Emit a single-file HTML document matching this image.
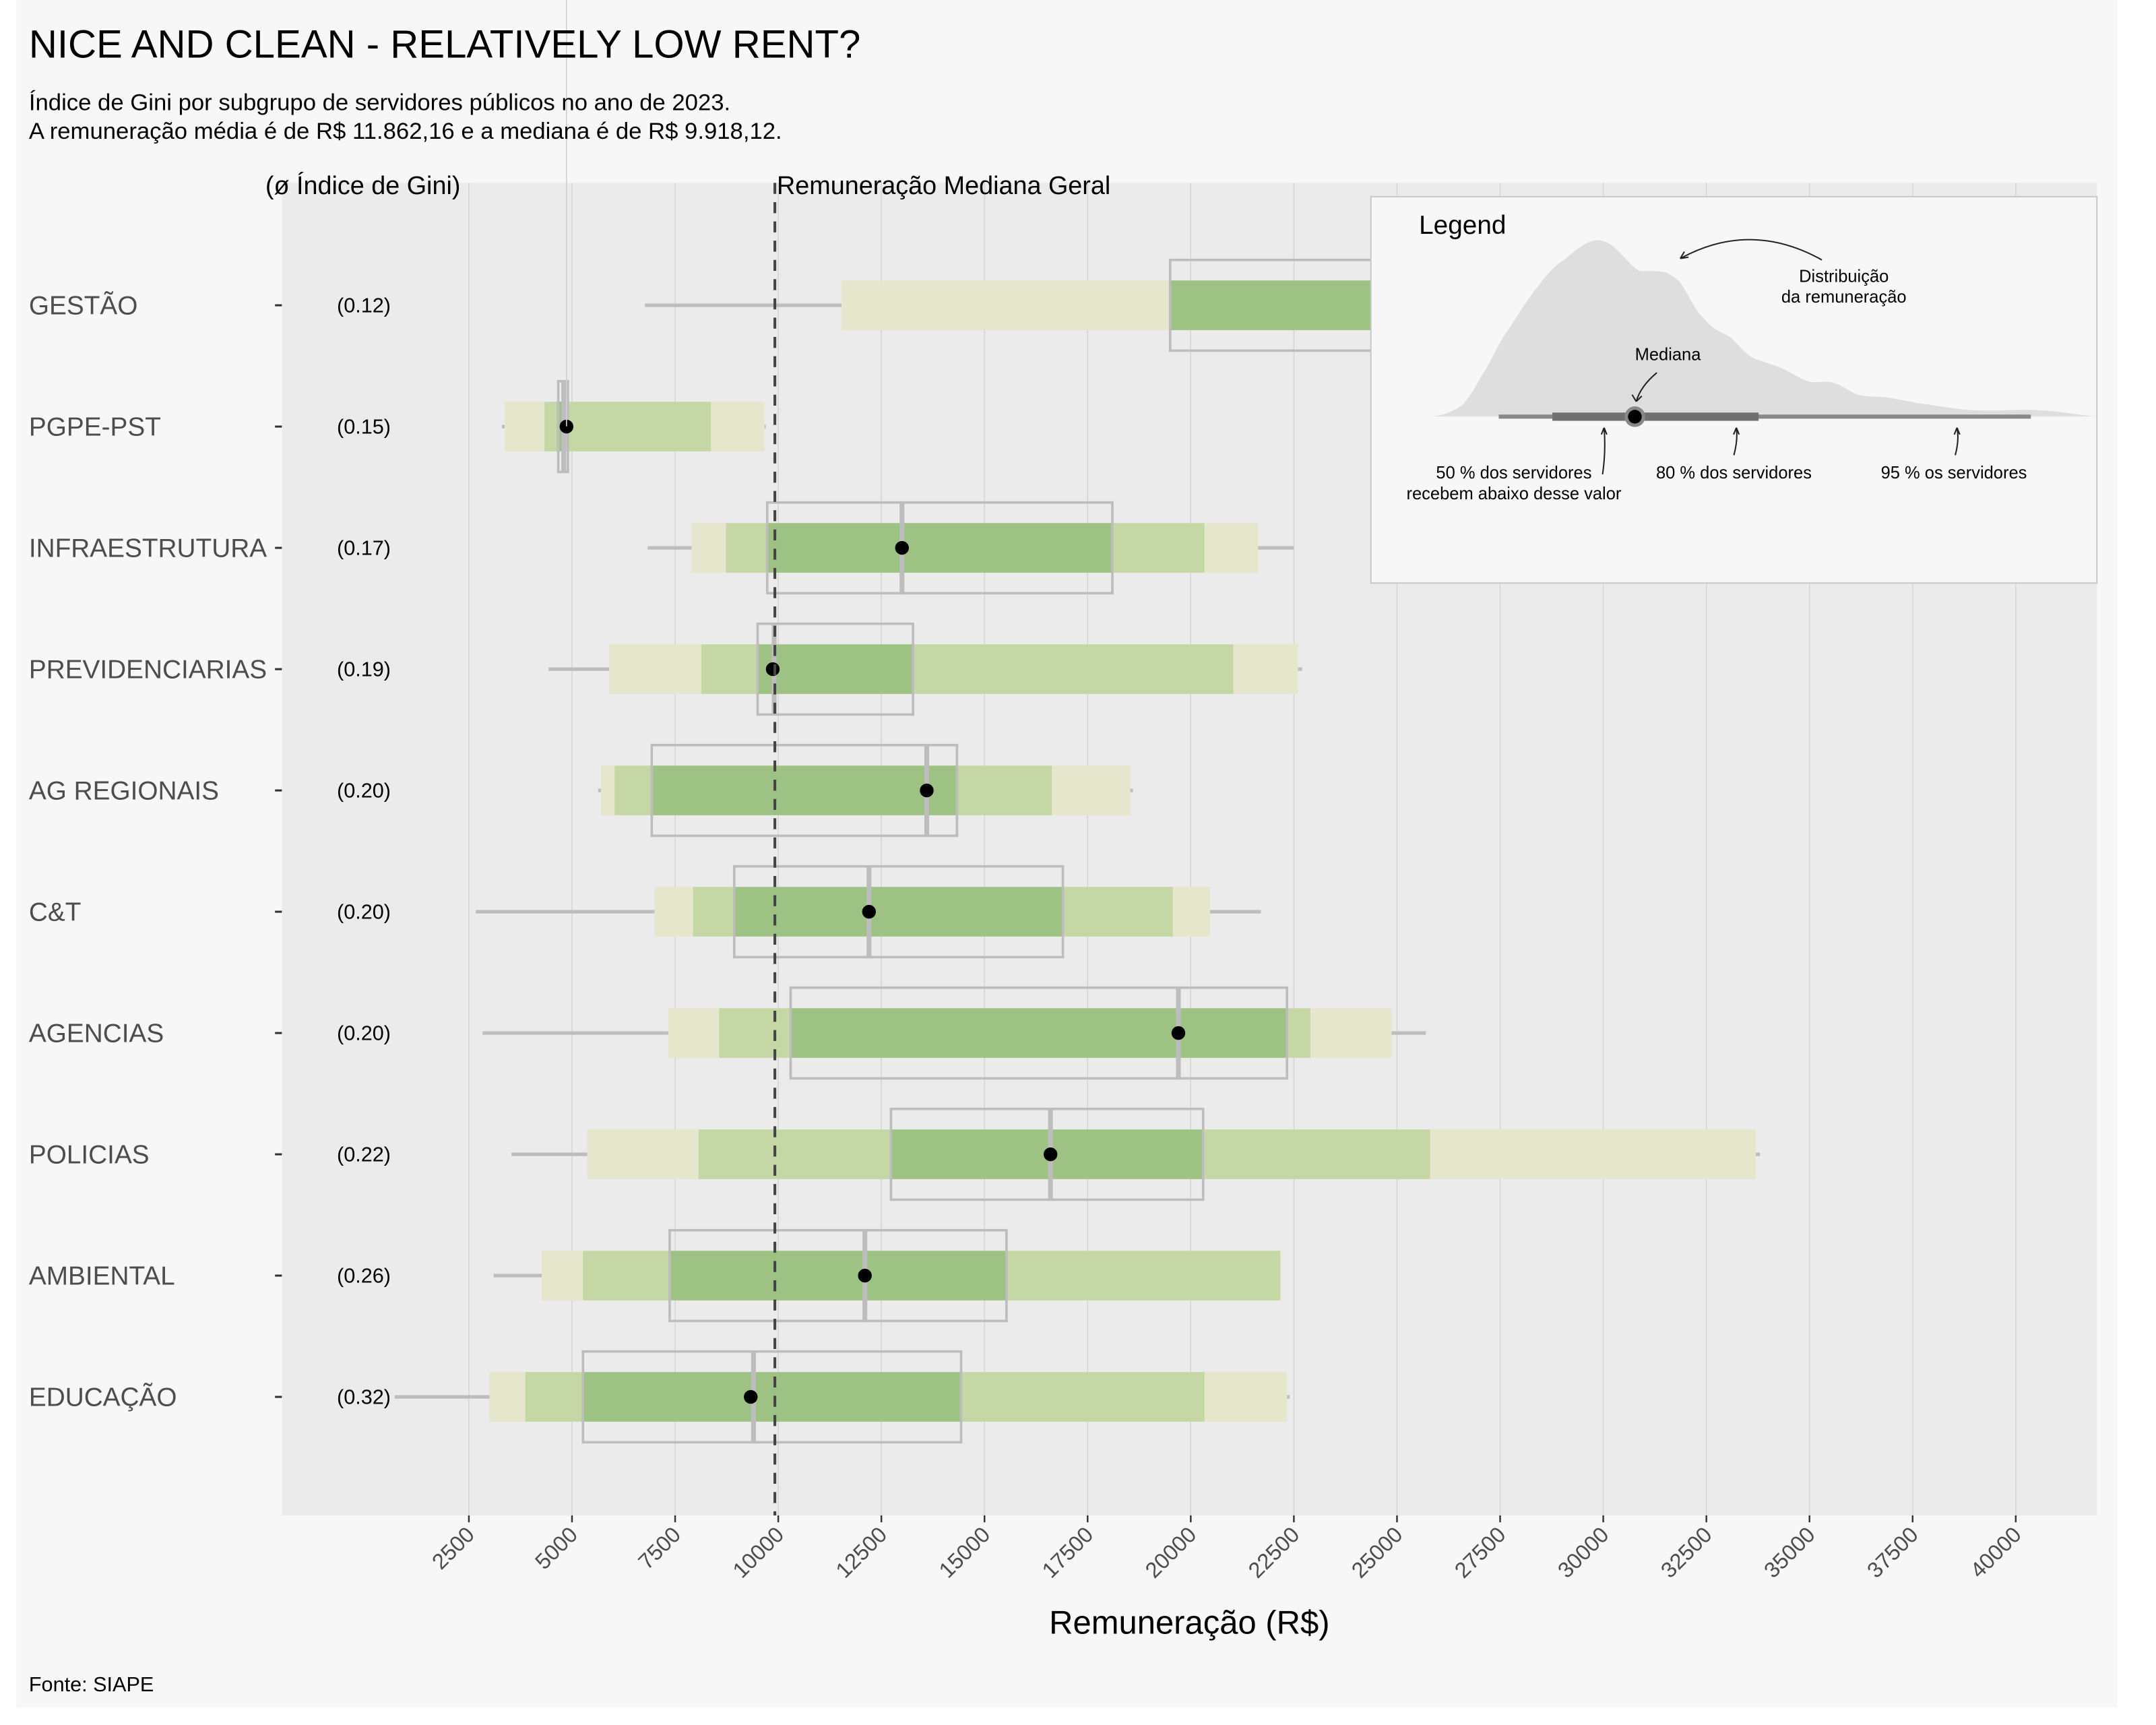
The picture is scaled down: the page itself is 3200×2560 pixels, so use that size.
<!DOCTYPE html>
<html><head><meta charset="utf-8">
<style>
html,body{margin:0;padding:0;background:#fff;}
svg{display:block;font-family:"Liberation Sans",sans-serif;}
</style></head>
<body>
<svg id="chart" width="3200" height="2560" viewBox="0 0 1568 1254.4" xmlns="http://www.w3.org/2000/svg">
<rect x="12" y="0" width="1528" height="1242" fill="#f7f7f7"/>
<rect x="205" y="133" width="1320" height="969" fill="#ebebeb"/>
<g id="grid"></g>
<g id="marks"></g>
<text x="21" y="42" font-size="28.5" fill="#000">NICE AND CLEAN - RELATIVELY LOW RENT?</text>
<text x="21" y="80" font-size="17" fill="#000">Índice de Gini por subgrupo de servidores públicos no ano de 2023.</text>
<text x="21" y="101" font-size="17" fill="#000">A remuneração média é de R$ 11.862,16 e a mediana é de R$ 9.918,12.</text>
<text x="193" y="141" font-size="18.5" fill="#000">(ø Índice de Gini)</text>
<text x="565" y="141" font-size="18.5" fill="#000">Remuneração Mediana Geral</text>
<text x="865" y="1188" font-size="24" text-anchor="middle" fill="#000">Remuneração (R$)</text>
<text x="21" y="1230" font-size="15" fill="#000">Fonte: SIAPE</text>
<g id="legend">
<rect x="997" y="143" width="528" height="281" fill="#f7f7f7" stroke="#c8c8c8" stroke-width="1"/>
<text x="1032" y="170" font-size="19" fill="#000">Legend</text>
<path fill="#dedede" d="M1041.1,302.9 C1052,302 1058,298 1063.4,294.7 C1072,285 1076,275 1080.6,268.5 C1088,255 1092,246 1097.8,238.5 C1106,226 1112,216 1118.4,208.5 C1126,198 1132,192 1139.1,187.8 C1148,180 1156,174 1163.1,174.7 C1172,176 1176,182 1180.3,185.9 C1186,192 1190,197 1194,197.2 C1202,197 1207,197 1211.2,198.1 C1216,200 1219,203 1221.5,204.7 C1228,214 1231,222 1235.3,227.2 C1241,234 1245,238 1249,240.3 C1254,243 1257,244 1259.4,246 C1266,253 1270,258 1276.5,261 C1285,264 1292,266 1297.2,268.5 C1305,272 1311,277 1317.8,277.8 C1325,278 1330,277 1335,278.8 C1343,282 1347,286 1352.1,287.2 C1360,289 1366,288 1372.8,289.1 C1385,291 1392,293 1400.3,293.8 C1415,296 1425,298 1438.1,298.4 C1460,299 1475,297 1489.6,298.8 C1505,300 1512,302 1525.7,302.9 Z"/>
<line x1="1090" y1="303" x2="1477" y2="303" stroke="#888" stroke-width="3"/>
<line x1="1129" y1="303" x2="1279" y2="303" stroke="#707070" stroke-width="6"/>
<circle cx="1189" cy="303" r="7.5" fill="#888"/>
<circle cx="1189" cy="303" r="5" fill="#000"/>
<text x="1341" y="205" font-size="12.5" text-anchor="middle">Distribuição</text>
<text x="1341" y="220" font-size="12.5" text-anchor="middle">da remuneração</text>
<text x="1213" y="262" font-size="12.5" text-anchor="middle">Mediana</text>
<text x="1101" y="348" font-size="12.5" text-anchor="middle">50 % dos servidores</text>
<text x="1101" y="363" font-size="12.5" text-anchor="middle">recebem abaixo desse valor</text>
<text x="1261" y="348" font-size="12.5" text-anchor="middle">80 % dos servidores</text>
<text x="1421" y="348" font-size="12.5" text-anchor="middle">95 % os servidores</text>
<g fill="none" stroke="#222" stroke-width="1">
<path d="M1325,189 Q1273,160 1222,188 M1222,188 l6,-1 M1222,188 l3,-5"/>
<path d="M1205,271 Q1193,281 1190,292 M1190,292 l-3,-5 M1190,292 l4,-4"/>
<path d="M1165.5,345 Q1168,328 1166.6,311 M1166.6,311 l-2,5 M1166.6,311 l2,5"/>
<path d="M1261,331 Q1264,320 1262.8,311 M1262.8,311 l-2,5 M1262.8,311 l2,5"/>
<path d="M1422,331 Q1425,320 1423.3,311 M1423.3,311 l-2,5 M1423.3,311 l2,5"/>
</g>
</g>
</svg>
<script>
const categories = ["GESTÃO","PGPE-PST","INFRAESTRUTURA","PREVIDENCIARIAS","AG REGIONAIS","C&T","AGENCIAS","POLICIAS","AMBIENTAL","EDUCAÇÃO"];
const gini = ["(0.12)","(0.15)","(0.17)","(0.19)","(0.20)","(0.20)","(0.20)","(0.22)","(0.26)","(0.32)"];
const whiskerLo = [6767,3300,6833,4433,5633,2667,2833,3533,3100,700];
const whiskerHi = [38000,9700,22500,22700,18600,21700,25700,33800,22200,22400];
const p95Lo = [11533,3367,7900,5900,5700,7000,7333,5367,4267,3000];
const p95Hi = [36000,9667,21633,22600,18533,20467,24867,33700,22200,22333];
const p80Lo = [19500,4333,8733,8133,6033,7933,8567,8067,5267,3867];
const p80Hi = [34000,8367,20333,21033,16633,19567,22900,25800,22167,20333];
const p50Lo = [19500,4633,9733,9500,6933,8933,10300,12733,7367,5267];
const p50Hi = [31000,4800,18100,13267,14333,16900,22333,20300,15533,14433];
const medianVal = [27000,4867,13000,9867,13600,12200,19700,16600,12100,9333];
const boxQ1 = [19500,4667,9733,9500,6933,8933,10300,12733,7367,5267];
const boxQ3 = [31000,4900,18100,13267,14333,16900,22333,20300,15533,14433];
const boxMed = [27000,4800,13000,9900,13600,12200,19700,16600,12100,9400];
const xTicks = [2500,5000,7500,10000,12500,15000,17500,20000,22500,25000,27500,30000,32500,35000,37500,40000];
const overallMedian = 9918.12;

const NS="http://www.w3.org/2000/svg";
const X = v => 341 + (v-2500)*0.03;
const Y = i => 222 + i*88.2;
function mk(tag, attrs, parent){const e=document.createElementNS(NS,tag);for(const k in attrs)e.setAttribute(k,attrs[k]);parent.appendChild(e);return e;}
const grid=document.getElementById('grid'), marks=document.getElementById('marks'), svg=document.getElementById('chart');

xTicks.forEach((t,i)=>{
  const g=mk('line',{x1:X(t),x2:X(t),y1:133,y2:1102,stroke:'#d4d4d4','stroke-width':0.7},grid);
  
  
  const tk=mk('line',{x1:X(t),x2:X(t),y1:1102,y2:1107,stroke:'#333','stroke-width':1.2},svg);
  
  
  const lb=mk('text',{x:X(t)+5,y:1117,'font-size':16,fill:'#4d4d4d','text-anchor':'end',transform:`rotate(-45 ${X(t)+5} 1117)`},svg);
  lb.textContent=String(t);
  
  
});

categories.forEach((c,i)=>{
  const y=Y(i);
  const lab=mk('text',{x:21,y:y+6.5,'font-size':19,fill:'#4d4d4d'},svg);
  lab.textContent=c;
  
  
  const tk=mk('line',{x1:200,x2:205,y1:y,y2:y,stroke:'#333','stroke-width':1.5},svg);
  
  
  const gl=mk('text',{x:245,y:y+5,'font-size':15,fill:'#000'},svg);
  gl.textContent=gini[i];
  
  

  const w=mk('line',{x1:X(whiskerLo[i]),x2:X(whiskerHi[i]),y1:y,y2:y,stroke:'#bdbdbd','stroke-width':2.5},marks);
  
  
  const r95=mk('rect',{x:X(p95Lo[i]),y:y-18,width:X(p95Hi[i])-X(p95Lo[i]),height:36,fill:'#e6e6cc'},marks);
  
  
  const r80=mk('rect',{x:X(p80Lo[i]),y:y-18,width:X(p80Hi[i])-X(p80Lo[i]),height:36,fill:'#c4d7a4'},marks);
  
  
  const r50=mk('rect',{x:X(p50Lo[i]),y:y-18,width:X(p50Hi[i])-X(p50Lo[i]),height:36,fill:'#9dc283'},marks);
  
  
  const bx=mk('rect',{x:X(boxQ1[i]),y:y-33,width:X(boxQ3[i])-X(boxQ1[i]),height:66,fill:'none',stroke:'#bdbdbd','stroke-width':1.8},marks);
  
  
  const bm=mk('line',{x1:X(boxMed[i]),x2:X(boxMed[i]),y1:y-33,y2:y+33,stroke:'#bdbdbd','stroke-width':3.5},marks);
  
  
  const d=mk('circle',{cx:X(medianVal[i]),cy:y,r:5,fill:'#000'},marks);
  
  
});

const ml=mk('line',{x1:X(overallMedian),x2:X(overallMedian),y1:133,y2:1102,stroke:'#444','stroke-width':2,'stroke-dasharray':'8,6'},marks);


const vl=mk('line',{x1:412,x2:412,y1:0,y2:310,stroke:'#d0d0d0','stroke-width':0.8},marks);


svg.appendChild(document.getElementById('legend'));
</script>
</body></html>
